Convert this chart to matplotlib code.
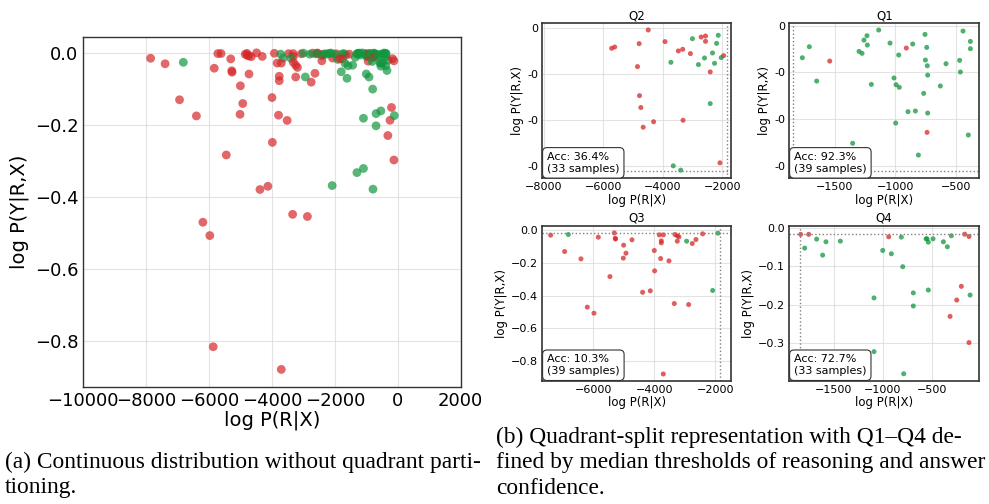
import numpy as np
import matplotlib
matplotlib.use("Agg")
import matplotlib.pyplot as plt
from matplotlib.ticker import MultipleLocator, FormatStrFormatter

# thresholds (medians of log P(R|X) and log P(Y|R,X))
x_med = -1850
y_med = -0.0156

# Q2: low reasoning conf, high answer conf
q2_x = [-7860, -4490, -4796, -5722, -5620, -3925, -4852, -4784, -4739, -4660, -4310,
        -3316, -3475, -3328, -3068, -2706, -2559, -2559, -2401, -1949, -2073,
        -3000, -2130, -2186, -3725, -2798, -2594, -2323, -2255, -2029, -2401, -3646, -3395]
q2_y = [-0.0153, -0.00018, -0.00167, -0.00218, -0.00204, -0.00145, -0.00418, -0.00735,
        -0.00865, -0.0108, -0.0102, -0.01004, -0.00247, -0.00229, -0.00276, -0.00095,
        -0.00084, -0.00142, -0.00476, -0.00298, -0.01469,
        -0.00113, -0.00076, -0.00164, -0.00371, -0.00396, -0.00324, -0.00269, -0.00382,
        -0.0032, -0.00822, -0.01502, -0.01549]
q2_ok = [0] * 21 + [1] * 12

# Q1: high reasoning conf, high answer conf
q1_x = [-1771, -1713, -1652, -1544, -1354, -1301, -1276, -1260, -1235, -1232, -1199,
        -1138, -1044, -1011, -994, -972, -967, -997, -909, -895, -856, -834, -809,
        -765, -754, -751, -740, -735, -732, -732, -737, -627, -580, -467, -461, -439,
        -378, -378, -395]
q1_y = [-0.00343, -0.00225, -0.00593, -0.00379, -0.0126, -0.00275, -0.00296, -0.00154,
        -0.00107, -0.00207, -0.00629, -0.00046, -0.00186, -0.0056, -0.00632, -0.00314,
        -0.0066, -0.01043, -0.00239, -0.00921, -0.00196, -0.00914, -0.01386, -0.00725,
        -0.00093, -0.00368, -0.00232, -0.00429, -0.00529, -0.00936, -0.01143, -0.00646,
        -0.00407, -0.00371, -0.00496, -0.00057, -0.00168, -0.00246, -0.01171]
q1_ok = [1, 1, 1, 0, 1, 1, 1, 1, 1, 1, 1, 1, 1, 1, 1, 1, 1, 1, 0, 1, 1, 1, 1, 1, 1,
         1, 1, 1, 1, 1, 0, 1, 1, 1, 1, 1, 1, 1, 1]

# Q3: low reasoning conf, low answer conf
q3_x = [-7399, -6820, -6940, -6404, -5836, -5311, -5280, -5270, -5005, -5016, -4929,
        -4732, -5454, -6197, -5978, -5870, -4383, -4131, -4000, -3989, -3836, -3705,
        -3770, -3770, -3792, -3519, -3705, -3322, -3246, -3191, -3246, -3344, -2874,
        -2940, -2754, -2634, -2415, -1913, -2087]
q3_y = [-0.0306, -0.0265, -0.1306, -0.1755, -0.0429, -0.017, -0.050, -0.054, -0.0918,
        -0.171, -0.141, -0.059, -0.284, -0.471, -0.508, -0.817, -0.380, -0.371, -0.1245,
        -0.249, -0.0286, -0.0286, -0.0653, -0.0776, -0.1735, -0.188, -0.880, -0.0265,
        -0.0347, -0.0408, -0.0673, -0.449, -0.455, -0.0673, -0.0816, -0.0571, -0.0224,
        -0.0184, -0.369]
q3_ok = [0, 1] + [0] * 31 + [1, 0, 0, 0, 1, 1]

# Q4: high reasoning conf, low answer conf
q4_x = [-1840, -1758, -1799, -1677, -1616, -1582, -1435, -1092, -1092, -1003, -915,
        -942, -813, -799, -789, -691, -691, -561, -551, -538, -538, -490, -384, -344,
        -303, -316, -248, -201, -167, -123, -123, -112, -1300]
q4_y = [-0.017, -0.017, -0.0527, -0.0294, -0.0709, -0.0363, -0.0346, -0.182, -0.3215,
        -0.0588, -0.0674, -0.0233, -0.0242, -0.101, -0.379, -0.169, -0.203, -0.0285,
        -0.0285, -0.0372, -0.1616, -0.0285, -0.0363, -0.0493, -0.0207, -0.230, -0.1876,
        -0.152, -0.0165, -0.0225, -0.298, -0.1746, -0.333]
q4_ok = [0, 0, 1, 1, 1, 1, 1, 1, 1, 1, 1, 0, 1, 1, 1, 1, 1, 1, 1, 1, 1, 1, 1, 1, 1,
         0, 0, 0, 0, 0, 0, 1, 1]

RED = '#d62728'
GREEN = '#12963f'
W, H = 989, 504


def rect(l, r, t, b):
    return [l / W, (H - b) / H, (r - l) / W, (b - t) / H]


def colors(ok):
    return [GREEN if k else RED for k in ok]


def style(ax, lw):
    ax.grid(True, color='#d8d8d8', lw=0.8, alpha=0.7)
    ax.set_axisbelow(True)
    ax.tick_params(length=0)
    for s in ax.spines.values():
        s.set_color('#333333')
        s.set_linewidth(lw)


fig = plt.figure(figsize=(W / 100, H / 100), dpi=100)

# (a) all samples
all_x = q2_x + q1_x + q3_x + q4_x
all_y = q2_y + q1_y + q3_y + q4_y
all_ok = q2_ok + q1_ok + q3_ok + q4_ok
ax = fig.add_axes(rect(83.3, 460.7, 37.3, 386.7))
ax.scatter(all_x, all_y, c=colors(all_ok), s=40, alpha=0.7, linewidths=0)
ax.set_xlim(-10000, 2000)
ax.set_ylim(-0.928, 0.043)
ax.xaxis.set_major_locator(MultipleLocator(2000))
ax.yaxis.set_major_locator(MultipleLocator(0.2))
ax.tick_params(labelsize=13)
ax.set_xlabel('log P(R|X)', fontsize=14, labelpad=1)
ax.set_ylabel('log P(Y|R,X)', fontsize=14, labelpad=4)
style(ax, 1.0)

# (b) quadrants
panels = [
    ('Q2', q2_x, q2_y, q2_ok, rect(542.3, 731.3, 23.3, 178.3), (-8060, -1690), (-0.01638, 0.00055), 2000, 0.005),
    ('Q1', q1_x, q1_y, q1_ok, rect(789.3, 979.3, 23.3, 178.3), (-1879, -304), (-0.01635, 0.00026), 500, 0.005),
    ('Q3', q3_x, q3_y, q3_ok, rect(542.3, 731.3, 225.5, 380.7), (-7672, -1475), (-0.921, 0.0286), 2000, 0.2),
    ('Q4', q4_x, q4_y, q4_ok, rect(789.3, 978.7, 225.5, 380.7), (-1956, -24), (-0.397, 0.006), 500, 0.1),
]
for name, qx, qy, qok, r, xl, yl, xs, ys in panels:
    ax = fig.add_axes(r)
    ax.scatter(qx, qy, c=colors(qok), s=13, alpha=0.75, linewidths=0)
    ax.axvline(x_med, color='gray', ls=':', lw=1.0)
    ax.axhline(y_med, color='gray', ls=':', lw=1.0)
    ax.set_xlim(*xl)
    ax.set_ylim(*yl)
    ax.xaxis.set_major_locator(MultipleLocator(xs))
    ax.yaxis.set_major_locator(MultipleLocator(ys))
    if ys < 0.01:
        ax.yaxis.set_major_formatter(FormatStrFormatter('%.0f'))
    ax.tick_params(labelsize=8, pad=3)
    ax.set_title(name, fontsize=8.5, pad=3)
    ax.set_xlabel('log P(R|X)', fontsize=8.5, labelpad=1)
    ax.set_ylabel('log P(Y|R,X)', fontsize=8.5, labelpad=2)
    style(ax, 1.2)
    acc = 100.0 * sum(qok) / len(qok)
    ax.text(0.025, 0.03, f'Acc: {acc:.1f}%\n({len(qok)} samples)', transform=ax.transAxes,
            fontsize=8, va='bottom', ha='left',
            bbox=dict(boxstyle='round,pad=0.4', fc='white', ec='#333333', lw=0.8))

# captions
cap = dict(family='Liberation Serif', fontsize=16.8, va='baseline', ha='left')
fig.text(5 / W, (H - 468) / H, '(a) Continuous distribution without quadrant parti-', **cap)
fig.text(5 / W, (H - 493.5) / H, 'tioning.', **cap)
fig.text(496 / W, (H - 442.5) / H, '(b) Quadrant-split representation with Q1–Q4 de-', **cap)
fig.text(496 / W, (H - 468) / H, 'fined by median thresholds of reasoning and answer', **cap)
fig.text(496 / W, (H - 493.5) / H, 'confidence.', **cap)

fig.savefig('out.png', dpi=100)
